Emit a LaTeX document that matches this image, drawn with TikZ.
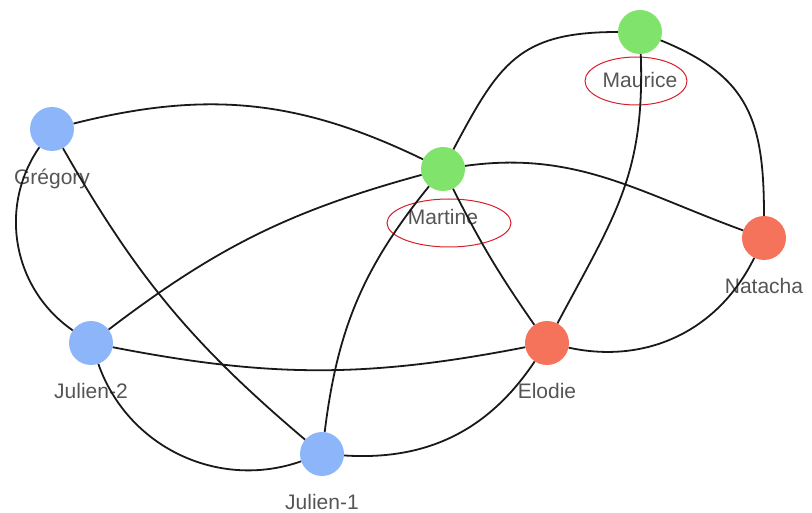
\documentclass[tikz,border=0pt]{standalone}
\usepackage{fontspec}
\setmainfont{Liberation Sans}
\usetikzlibrary{positioning,shapes.geometric}

\definecolor{pgreen}{RGB}{128,227,108}
\definecolor{pblue}{RGB}{141,181,249}
\definecolor{pred}{RGB}{244,115,90}
\definecolor{lblgray}{RGB}{85,85,85}
\definecolor{hired}{RGB}{215,30,45}

\tikzset{
  person/.style={circle,minimum size=44pt,inner sep=0pt},
  pname/.style={text=lblgray,font=\fontsize{21}{24}\selectfont,inner sep=0pt,text height=15.5pt,text depth=1pt},
  hilite/.style={draw=hired,line width=1pt,ellipse,inner sep=0pt},
  link/.style={line width=1.8pt,black!90}
}

\begin{document}
\begin{tikzpicture}[x=1pt,y=1pt]
\useasboundingbox (0,0) rectangle (812,512);
\node[person,fill=pgreen] (maurice) at (640,480) {};
\node[person,fill=pblue] (gregory) at (52,383) {};
\node[person,fill=pgreen] (martine) at (443,343) {};
\node[person,fill=pred] (natacha) at (764,274) {};
\node[person,fill=pblue] (julien2) at (91,169) {};
\node[person,fill=pred] (elodie) at (547,169) {};
\node[person,fill=pblue] (julien1) at (322,58) {};
\node[pname,below=18pt of maurice] (maurice-l) {Maurice};
\node[pname,below=18pt of gregory] (gregory-l) {Grégory};
\node[pname,below=18pt of martine] (martine-l) {Martine};
\node[pname,below=18pt of natacha] (natacha-l) {Natacha};
\node[pname,below=18pt of julien2] (julien2-l) {Julien-2};
\node[pname,below=18pt of elodie] (elodie-l) {Elodie};
\node[pname,below=18pt of julien1] (julien1-l) {Julien-1};
\node[hilite,minimum width=102pt,minimum height=48pt] (maurice-e) at (636,431) {};
\node[hilite,minimum width=124pt,minimum height=48pt] (martine-e) at (449,289) {};
\draw[link] (gregory) to[bend left=20] (martine);
\draw[link] (gregory) to[bend right=45] (julien2);
\draw[link] (gregory) to[bend right=10] (julien1);
\draw[link] (martine) to[out=62,in=180,looseness=1.25] (maurice);
\draw[link] (maurice) to[out=-22,in=90,looseness=1.2] (natacha);
\draw[link] (maurice) to[out=-88,in=62,looseness=1.1] (elodie);
\draw[link] (martine) to[out=8,in=160] (natacha);
\draw[link] (martine) to[bend right=11] (julien2);
\draw[link] (martine) to[bend right=16] (julien1);
\draw[link] (martine) to[bend right=4] (elodie);
\draw[link] (julien2) to[bend right=11] (elodie);
\draw[link] (julien2) to[bend right=45] (julien1);
\draw[link] (julien1) to[bend right=30] (elodie);
\draw[link] (elodie) to[bend right=38] (natacha);
\end{tikzpicture}
\end{document}
